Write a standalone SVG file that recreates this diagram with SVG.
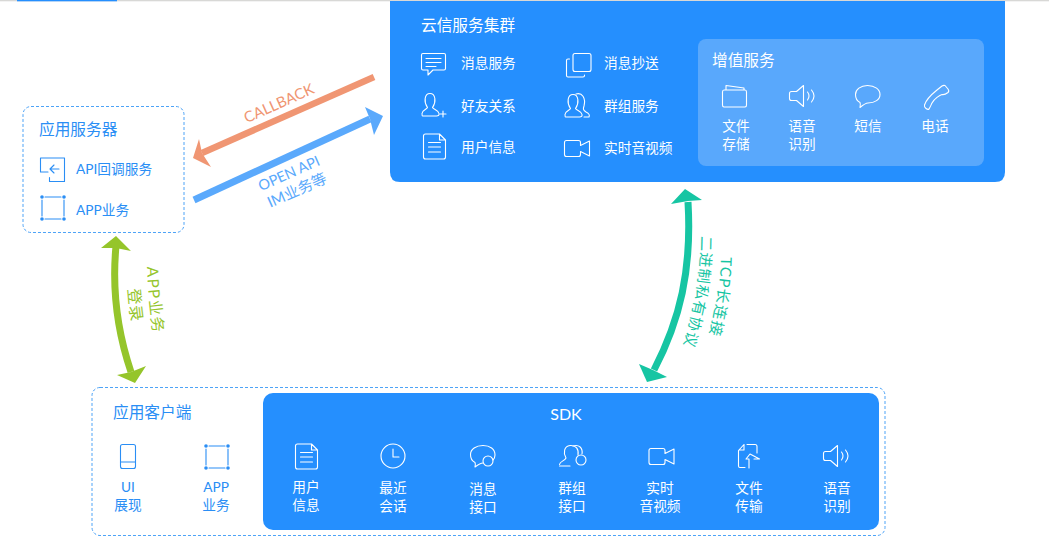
<svg xmlns="http://www.w3.org/2000/svg" width="1049" height="541" viewBox="0 0 1049 541">
<style>
text{font-family:"Lato","Noto Sans CJK SC","Noto Sans",sans-serif}
.t{font-size:13.7px}.h{font-size:15.7px}
.w{fill:#fff}.b{fill:#2a8ef5}.m{text-anchor:middle}
.iw{fill:none;stroke:#fff;stroke-width:1.1;stroke-linejoin:round;stroke-linecap:round}
.ib{fill:none;stroke:#2a8ef5;stroke-width:1.1;stroke-linejoin:round;stroke-linecap:round}
.dash{fill:#fff;stroke:#4da3f7;stroke-width:1;stroke-dasharray:3 2}
</style>
<defs>
<g id="doc"><path d="M2,0H16L22,6V23Q22,25 20,25H2Q0,25 0,23V2Q0,0 2,0ZM16,0V6H22M5,8.500H17M5,13H17M5,18H17"/></g>
<g id="video"><path d="M2,0.500H14Q16,0.500 16,2.500V5.500L25,1V16L16,11.500V14.500Q16,16.500 14,16.500H2Q0,16.500 0,14.500V2.500Q0,0.500 2,0.500Z"/></g>
<g id="speaker"><path d="M14,0.500V21.500L7,15.500H2Q0,15.500 0,13.500V8.500Q0,6.500 2,6.500H7ZM18,7Q21,11 18,15M22,5Q27,11 22,17"/></g>
<g id="person"><path d="M1,23.500H15Q18,23.500 17.500,21C17,17.500 12,17 11,15C15,9 14,1 8.500,1C3,1 2,9 6,15C5,17 0.500,17.500 0.500,21Q0.500,23.500 1,23.500Z"/></g>
<g id="square"><path d="M3,0H19M3,22H19M0,3V19M22,3V19"/><circle cx="0" cy="0" r="1.800" fill="#2a8ef5" stroke="none"/><circle cx="22" cy="0" r="1.800" fill="#2a8ef5" stroke="none"/><circle cx="0" cy="22" r="1.800" fill="#2a8ef5" stroke="none"/><circle cx="22" cy="22" r="1.800" fill="#2a8ef5" stroke="none"/></g>
<g id="bubble"><path d="M12.500,0.500C20,0.500 25,4.500 25,9.500C25,14.500 20,18 13,18C11,18 8,20 5,22.500C5.500,20 5.500,18.500 5,17.500C2,16 0.500,13 0.500,9.500C0.500,4.500 5.500,0.500 12.500,0.500Z"/></g>
<path id="pGreen1" d="M147,267Q148,300 155,345"/>
<path id="pGreen2" d="M128,289Q129,305 133,335"/>
<path id="pTeal1" d="M721,257Q720,300 705,350"/>
<path id="pTeal2" d="M701,236Q701,295 680,356"/>
</defs>

<rect x="0" y="0" width="1049" height="1.300" fill="#d8d8d6"/>
<rect x="17" y="0" width="100" height="1.300" fill="#258ffe"/>

<g id="connectors">
<g id="callback">
<path d="M374,77L202,153" fill="none" stroke="#f09673" stroke-width="6.500"/>
<path d="M193,158L199,139L202,153L211,167Z" fill="#f09673"/>
<text transform="translate(281,108) rotate(-24)" class="m" font-size="15" fill="#f09673">CALLBACK</text>
</g>
<g id="openapi">
<path d="M194,200L370,119" fill="none" stroke="#5aa9fc" stroke-width="7"/>
<path d="M383,116L365,107L370,119L374,135Z" fill="#5aa9fc"/>
<text transform="translate(291,178) rotate(-24)" class="m" font-size="14.500" fill="#5aa9fc">OPEN API</text>
<text transform="translate(299,195) rotate(-24)" class="m" font-size="15" fill="#5aa9fc">IM业务等</text>
</g>
<g id="app-login">
<path d="M116,246Q110,310 131,372" fill="none" stroke="#95c52b" stroke-width="7"/>
<path d="M116,236L131,251L116,248L101,248Z" fill="#95c52b"/>
<path d="M135,383L117,375L131,372L146,366Z" fill="#95c52b"/>
<text font-size="15.500" fill="#95c52b" letter-spacing="1.500"><textPath href="#pGreen1">APP业务</textPath></text>
<text font-size="16" fill="#95c52b" letter-spacing="1"><textPath href="#pGreen2">登录</textPath></text>
</g>
<g id="tcp">
<path d="M688,202C692,270 680,320 654,370" fill="none" stroke="#16c5a3" stroke-width="7"/>
<path d="M685,189L702,200L688,201L671,204Z" fill="#16c5a3"/>
<path d="M647,382L639,364L653,370L667,377Z" fill="#16c5a3"/>
<text font-size="15" fill="#16c5a3" letter-spacing="1.200"><textPath href="#pTeal1">TCP长连接</textPath></text>
<text font-size="15" fill="#16c5a3" letter-spacing="1"><textPath href="#pTeal2">二进制私有协议</textPath></text>
</g>
</g>

<g id="cloud">
<path d="M390,1H1005V172Q1005,182 995,182H400Q390,182 390,172Z" fill="#258ffe"/>
<text x="421" y="31" class="h w">云信服务集群</text>
<g class="iw">
<path d="M423,53.500H444Q445.500,53.500 445.500,55V68.500Q445.500,70 444,70H433L428,75V70H423Q421.500,70 421.500,68.500V55Q421.500,53.500 423,53.500ZM426,58.500H441M426,62.500H441M426,66.500H436"/>
<rect x="573" y="53.500" width="18" height="18" rx="2"/>
<path d="M569.500,59H568Q566.500,59 566.500,60.500V75.500Q566.500,77 568,77H583Q584.500,77 584.500,75.500V75"/>
<use href="#person" x="421.500" y="92.500"/>
<path d="M443,111V117M440,114H446"/>
<use href="#person" x="564.500" y="93.500"/>
<path d="M576,94C582,92 586,98 584,106C583,109 583,110 586,112C589,113.500 590,115 589,117H584"/>
<use href="#doc" x="423.500" y="134"/>
<use href="#video" x="564.500" y="140"/>
</g>
<text x="461" y="67.500" class="t w">消息服务</text>
<text x="461" y="110.500" class="t w">好友关系</text>
<text x="461" y="151.500" class="t w">用户信息</text>
<text x="604" y="68" class="t w">消息抄送</text>
<text x="604" y="111" class="t w">群组服务</text>
<text x="604" y="152.500" class="t w">实时音视频</text>
</g>

<g id="vas">
<rect x="698" y="39" width="286" height="127" rx="8" fill="#59a8fc"/>
<text x="712" y="66" class="h w">增值服务</text>
<g class="iw">
<path d="M724,90H745Q746.500,90 746.500,92V105Q746.500,107 745,107H724Q722.500,107 722.500,105V92Q722.500,90 724,90ZM726,90L726,85.500L744,88V90"/>
<use href="#speaker" x="789.500" y="85"/>
<use href="#bubble" x="855" y="85"/>
<path d="M937,90C932,94 926,100 924.500,105Q924,107 926,108.500Q928,110 929,109C930,107.500 931,105 932,103C934,99 940,95 942,94.500C944,95 946,94 948,92.500Q949.500,91 948,89L945,85.500Q943.500,85 942,86Z"/>
</g>
<text x="736" y="130.500" class="t w m">文件</text><text x="736" y="148.500" class="t w m">存储</text>
<text x="802" y="130.500" class="t w m">语音</text><text x="802" y="148.500" class="t w m">识别</text>
<text x="868" y="130.500" class="t w m">短信</text>
<text x="935" y="130.500" class="t w m">电话</text>
</g>

<g id="server">
<rect x="23" y="106.500" width="161" height="126" rx="8" class="dash"/>
<text x="39" y="135" class="h b">应用服务器</text>
<g class="ib">
<path d="M48,172H40.500V158H64.500V181.500H49.500V177.500M59,169H50M54,165L50,169L54,173"/>
<use href="#square" x="42" y="197"/>
</g>
<text x="76" y="174" class="t b">API回调服务</text>
<text x="76" y="214.500" class="t b">APP业务</text>
</g>

<g id="client">
<rect x="92" y="387.500" width="793" height="148" rx="8" class="dash"/>
<text x="113" y="418" class="h b">应用客户端</text>
<g class="ib">
<rect x="120.500" y="444.500" width="15" height="24" rx="2"/>
<path d="M120.500,462H135.500"/>
<use href="#square" x="206" y="446"/>
</g>
<text x="128" y="492" class="t b m">UI</text><text x="128" y="510" class="t b m">展现</text>
<text x="216" y="492" class="t b m">APP</text><text x="216" y="510" class="t b m">业务</text>
</g>

<g id="sdk">
<rect x="263" y="393" width="616" height="137" rx="10" fill="#258ffe"/>
<text x="566" y="420" class="w m" font-size="16">SDK</text>
<g class="iw">
<use href="#doc" x="295.500" y="444"/>
<circle cx="393" cy="456" r="12"/>
<path d="M393,449V457H399"/>
<path d="M483,445.500C490,445.500 495,449 495,455C495,457 494,459 493,460M483,463C481,463 479,464 475,467C475.500,465 475.500,463.500 475,462.500C472,461 470.500,458 470.500,454.500C470.500,449 476,445.500 483,445.500"/>
<circle cx="488" cy="461" r="5"/>
<path d="M559.500,466H570M578,455C579,449 576,445 570,445.500C564,446 563,453 566,458C565,461 560,461 559.500,464.500"/>
<path d="M573,446C579,444 583,448 582,454"/>
<circle cx="581" cy="460" r="5"/>
<use href="#video" x="649" y="448"/>
<path d="M747,444.500H755Q757,444.500 757,446.500V453M745,467.500H740Q738.500,467.500 738.500,466V450.500L744,444.500V450H739M749,468V459H746L750,454L759.500,459H754"/>
<use href="#speaker" x="823.500" y="445"/>
</g>
<text x="306" y="492" class="t w m">用户</text><text x="306" y="510" class="t w m">信息</text>
<text x="393" y="493" class="t w m">最近</text><text x="393" y="511" class="t w m">会话</text>
<text x="483" y="494" class="t w m">消息</text><text x="483" y="512" class="t w m">接口</text>
<text x="572" y="493" class="t w m">群组</text><text x="572" y="511" class="t w m">接口</text>
<text x="660" y="493" class="t w m">实时</text><text x="660" y="511" class="t w m">音视频</text>
<text x="749" y="493" class="t w m">文件</text><text x="749" y="511" class="t w m">传输</text>
<text x="837" y="493" class="t w m">语音</text><text x="837" y="511" class="t w m">识别</text>
</g>
</svg>
